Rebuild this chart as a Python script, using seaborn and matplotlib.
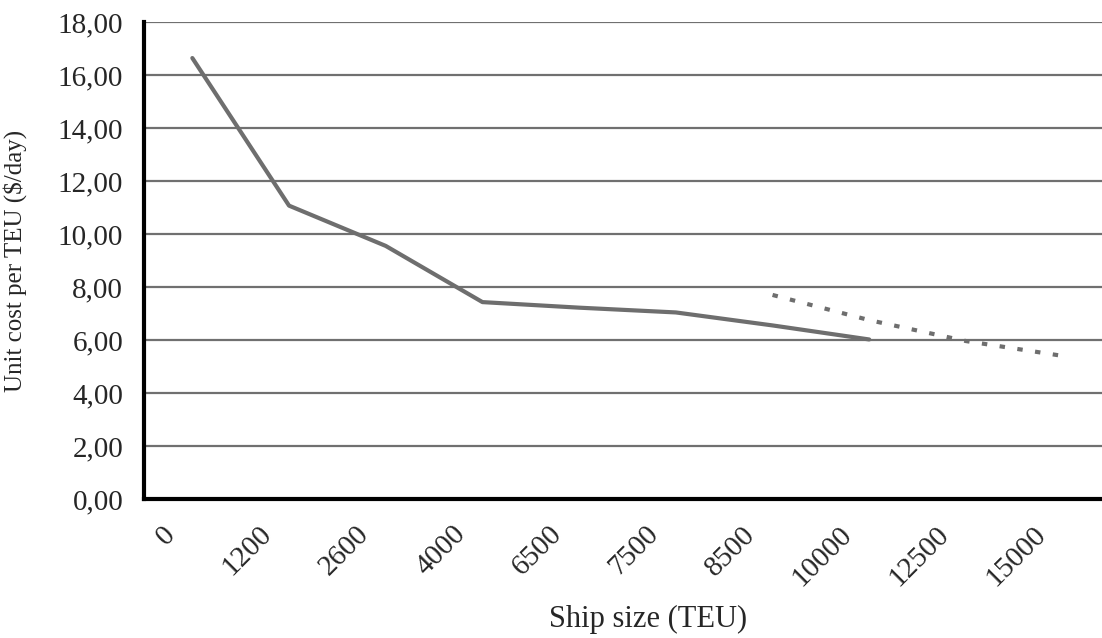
import matplotlib
matplotlib.use("Agg")
import matplotlib.pyplot as plt
import matplotlib.transforms as mtransforms
import seaborn as sns
import pandas as pd

# Ship size categories (x axis) and unit cost values
categories = ["0", "1200", "2600", "4000", "6500", "7500", "8500", "10000", "12500", "15000"]

actual_sizes = ["0", "1200", "2600", "4000", "6500", "7500", "8500", "10000"]
actual_cost = [16.64, 11.07, 9.55, 7.43, 7.22, 7.04, 6.55, 6.02]

trend_sizes = ["8500", "10000", "12500", "15000"]
trend_cost = [7.70, 6.75, 5.96, 5.40]

y_ticks = [0, 2, 4, 6, 8, 10, 12, 14, 16, 18]

df_actual = pd.DataFrame({"pos": [categories.index(s) for s in actual_sizes], "cost": actual_cost})
df_trend = pd.DataFrame({"pos": [categories.index(s) for s in trend_sizes], "cost": trend_cost})

sns.set_style("white")
plt.rcParams["font.family"] = ["Liberation Serif", "DejaVu Serif"]

fig = plt.figure(figsize=(11.02, 6.38), dpi=100)
ax = fig.add_axes([144 / 1102, 1 - 499 / 638, 958 / 1102, 477 / 638])

line_color = "#6e6e6e"
sns.lineplot(data=df_actual, x="pos", y="cost", ax=ax, color=line_color, linewidth=3, zorder=3)
sns.lineplot(data=df_trend, x="pos", y="cost", ax=ax, color=line_color, linewidth=3,
             linestyle=(0, (1.3, 3.0)), zorder=3)

# horizontal gridlines
for v in y_ticks[1:]:
    ax.axhline(v, color="#707070", linewidth=1.6, zorder=1)

ax.set_ylim(0, 18)
ax.set_xlim(-0.5, -0.5 + 958 / 96.7)
ax.set_yticks(y_ticks)
ax.set_yticklabels([f"{v:.2f}".replace(".", ",") for v in y_ticks], fontsize=21)

# category labels at centers, tick marks between categories
ax.set_xticks(range(len(categories)))
ax.set_xticklabels(categories, rotation=45, ha="right", va="top", fontsize=21)
ax.set_xticks([i + 0.5 for i in range(len(categories) - 1)], minor=True)
ax.tick_params(axis="x", which="major", length=0, pad=16)
ax.tick_params(axis="x", which="minor", length=8, width=2, color="black", direction="out")
ax.tick_params(axis="y", length=9, width=2, color="black", direction="out", pad=6)
offset = mtransforms.ScaledTranslation(-12 / 100, 0, fig.dpi_scale_trans)
for lab in ax.get_xticklabels():
    lab.set_transform(lab.get_transform() + offset)

for side in ["top", "right"]:
    ax.spines[side].set_visible(False)
for side in ["left", "bottom"]:
    ax.spines[side].set_color("black")
    ax.spines[side].set_linewidth(3)

ax.set_xlabel("Ship size (TEU)", fontsize=22)
ax.xaxis.set_label_coords((648 - 144) / 958, -106 / 477)
ax.set_ylabel("Unit cost per TEU ($/day)", fontsize=18)
ax.yaxis.set_label_coords(-117 / 958, 0.5)

fig.savefig("out.png", dpi=100)
